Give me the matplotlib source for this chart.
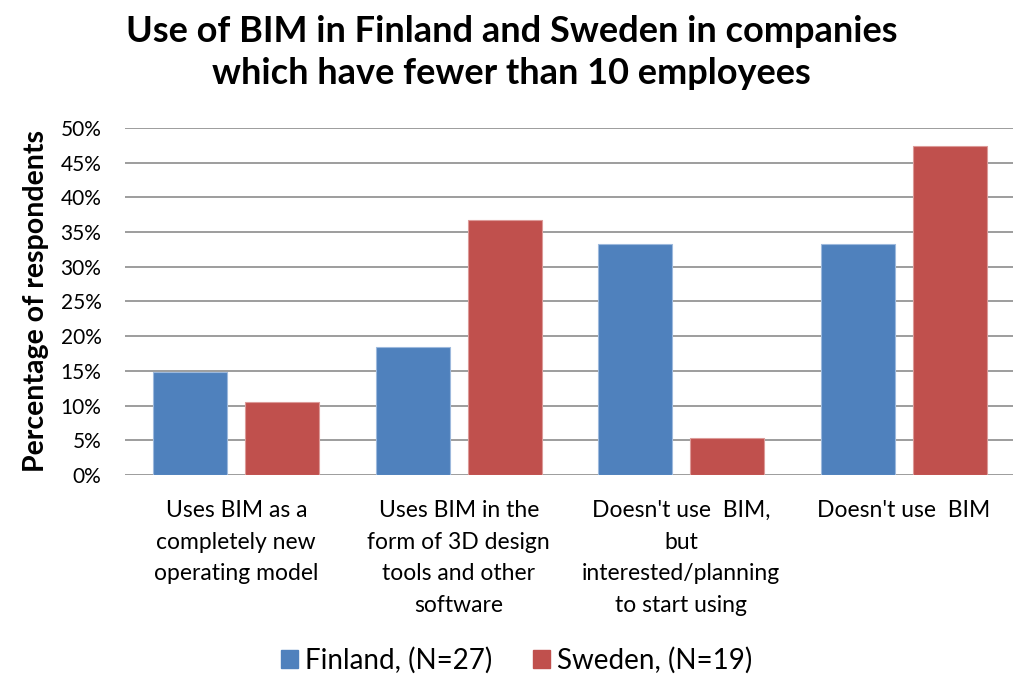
import numpy as np
import matplotlib.pyplot as plt
from matplotlib.patches import Patch

plt.rcParams['font.family'] = ['Lato', 'DejaVu Sans']

categories = ["Uses BIM as a\ncompletely new\noperating model",
              "Uses BIM in the\nform of 3D design\ntools and other\nsoftware",
              "Doesn't use  BIM,\nbut\ninterested/planning\nto start using",
              "Doesn't use  BIM"]
finland = [14.8, 18.5, 33.3, 33.3]
sweden = [10.5, 36.8, 5.3, 47.4]
series_names = ["Finland, (N=27)", "Sweden, (N=19)"]
colors = ["#4F81BD", "#C0504D"]

fig = plt.figure(figsize=(10.13, 6.75), dpi=100)
ax = fig.add_axes([0.1234, 0.2963, 0.8786, 0.5141])

x = np.arange(len(categories))
w = 0.333
ax.bar(x - 0.207, finland, w, color=colors[0], edgecolor="#9DB9DD", linewidth=0.8, zorder=3)
ax.bar(x + 0.207, sweden, w, color=colors[1], edgecolor="#DC9A98", linewidth=0.8, zorder=3)

ax.set_xlim(-0.5, len(categories) - 0.5)
ax.set_ylim(0, 50)
yt = np.arange(0, 51, 5)
ax.set_yticks(yt)
ax.set_yticklabels([f"{v}%" for v in yt], fontsize=15)
ax.set_xticks(x)
ax.set_xticklabels(categories, fontsize=16.5, linespacing=1.62, va="top")
ax.tick_params(axis="both", length=0)
ax.tick_params(axis="x", pad=18)
ax.tick_params(axis="y", pad=17)
ax.grid(axis="y", color="#8C8C8C", linewidth=1.2, zorder=0)
for s in ax.spines.values():
    s.set_visible(False)

ax.set_ylabel("Percentage of respondents", fontsize=20.5, fontweight="bold", labelpad=8)
fig.text(0.505, 0.978, "Use of BIM in Finland and Sweden in companies\nwhich have fewer than 10 employees",
         ha="center", va="top", fontsize=26, fontweight="bold", linespacing=1.35)

handles = [Patch(color=c) for c in colors]
fig.legend(handles, series_names, loc="lower center", bbox_to_anchor=(0.51, -0.035), ncol=2,
           frameon=False, fontsize=20, handlelength=0.6, handleheight=0.6, handletextpad=0.25,
           columnspacing=1.5)

fig.savefig("out.png", dpi=100)
